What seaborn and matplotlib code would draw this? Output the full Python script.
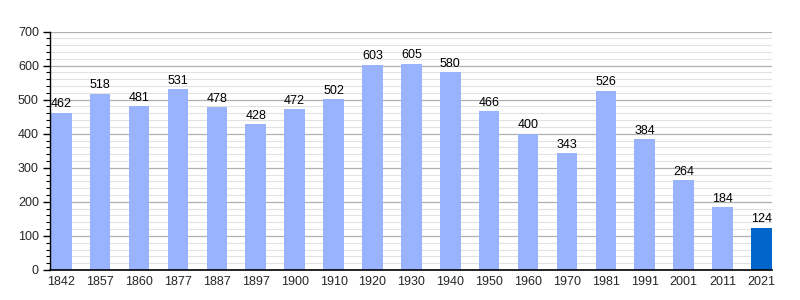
import matplotlib
matplotlib.use("Agg")
import matplotlib.pyplot as plt
import seaborn as sns
import pandas as pd
from matplotlib.ticker import MultipleLocator

years = ["1842", "1857", "1860", "1877", "1887", "1897", "1900", "1910", "1920", "1930",
         "1940", "1950", "1960", "1970", "1981", "1991", "2001", "2011", "2021"]
population = [462, 518, 481, 531, 478, 428, 472, 502, 603, 605,
              580, 466, 400, 343, 526, 384, 264, 184, 124]

sns.set_style("white")
plt.rcParams['font.family'] = ['Liberation Sans', 'DejaVu Sans']

df = pd.DataFrame({"year": years, "pop": population})
colors = ["#99b3ff"] * (len(years) - 1) + ["#0066cc"]

fig = plt.figure(figsize=(8, 3), dpi=100)
ax = fig.add_axes([0.0625, 0.1, 0.9025, 0.795])
sns.barplot(data=df, x="year", y="pop", hue="year", palette=colors, legend=False,
            width=0.53, ax=ax, saturation=1, linewidth=0, zorder=3)

ax.set_ylim(0, 700)
ax.set_xlim(-0.29, len(years) - 1 + 0.27)
ax.yaxis.set_major_locator(MultipleLocator(100))
ax.yaxis.set_minor_locator(MultipleLocator(20))
ax.grid(which="major", axis="y", color="#b0b0b0", linewidth=0.9, zorder=0)
ax.grid(which="minor", axis="y", color="#e2e2e2", linewidth=0.8, zorder=0)
ax.set_axisbelow(True)

for s in ["top", "right"]:
    ax.spines[s].set_visible(False)
for s in ["left", "bottom"]:
    ax.spines[s].set_color("black")
    ax.spines[s].set_zorder(10)
ax.spines["left"].set_linewidth(1)
ax.spines["bottom"].set_linewidth(1.2)

ax.tick_params(axis="y", which="major", length=5, width=1, color="black", labelsize=9, left=True, pad=3)
ax.tick_params(axis="y", which="minor", length=3, width=0.8, color="black", left=True)
ax.tick_params(axis="x", length=0, labelsize=9, pad=4)
ax.set_xlabel("")
ax.set_ylabel("")

for i, v in enumerate(population):
    ax.text(i, v + 7, str(v), ha="center", va="bottom", fontsize=9, color="black")

fig.savefig("out.png", dpi=100)
